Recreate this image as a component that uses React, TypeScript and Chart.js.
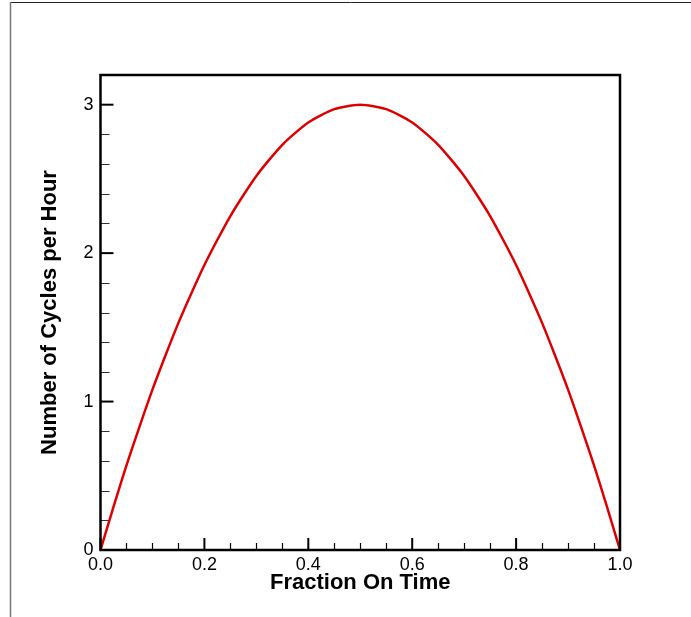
import React, { useEffect, useRef } from "react";
import { Chart, registerables } from "chart.js";

Chart.register(...registerables);

const fractionOnTime: number[] = [
  0, 0.025, 0.05, 0.075, 0.1, 0.125, 0.15, 0.175, 0.2, 0.225, 0.25, 0.275, 0.3, 0.325, 0.35, 0.375, 0.4, 0.425, 0.45,
  0.475, 0.5, 0.525, 0.55, 0.575, 0.6, 0.625, 0.65, 0.675, 0.7, 0.725, 0.75, 0.775, 0.8, 0.825, 0.85, 0.875, 0.9,
  0.925, 0.95, 0.975, 1.0,
];
const cyclesPerHour: number[] = [
  0, 0.29, 0.57, 0.83, 1.08, 1.31, 1.53, 1.73, 1.92, 2.09, 2.25, 2.39, 2.52, 2.63, 2.73, 2.81, 2.88, 2.93, 2.97, 2.99,
  3.0, 2.99, 2.97, 2.93, 2.88, 2.81, 2.73, 2.63, 2.52, 2.39, 2.25, 2.09, 1.92, 1.73, 1.53, 1.31, 1.08, 0.83, 0.57,
  0.29, 0,
];
const xMajorTicks: number[] = [0, 0.2, 0.4, 0.6, 0.8, 1.0];
const yMajorTicks: number[] = [0, 1, 2, 3];
const xTitle = "Fraction On Time";
const yTitle = "Number of Cycles per Hour";

const FONT = '"Liberation Sans", Arial, Helvetica, sans-serif';

const decorPlugin = {
  id: "decor",
  afterDraw(chart: any) {
    const ctx = chart.ctx as CanvasRenderingContext2D;
    const xs = chart.scales.x;
    const ys = chart.scales.y;
    const { left, right, top, bottom } = chart.chartArea;
    ctx.save();
    // outer frame
    ctx.strokeStyle = "#222";
    ctx.lineWidth = 1;
    ctx.beginPath();
    ctx.moveTo(10, 2.5);
    ctx.lineTo(691, 2.5);
    ctx.stroke();
    ctx.strokeStyle = "#777";
    ctx.lineWidth = 1.5;
    ctx.beginPath();
    ctx.moveTo(10.5, 2);
    ctx.lineTo(10.5, 617);
    ctx.stroke();

    // minor ticks x
    ctx.strokeStyle = "#000";
    ctx.lineWidth = 1.2;
    for (let i = 1; i < 20; i++) {
      if (i % 4 === 0) continue;
      const px = Math.round(xs.getPixelForValue(i * 0.05)) + 0.5;
      ctx.beginPath();
      ctx.moveTo(px, bottom);
      ctx.lineTo(px, bottom - 7);
      ctx.stroke();
    }
    // minor ticks y
    ctx.strokeStyle = "#333";
    ctx.lineWidth = 1;
    for (let i = 1; i < 16; i++) {
      if (i % 5 === 0) continue;
      const py = Math.round(ys.getPixelForValue(i * 0.2)) + 0.5;
      ctx.beginPath();
      ctx.moveTo(left, py);
      ctx.lineTo(left + 9, py);
      ctx.stroke();
    }
    // major ticks
    ctx.strokeStyle = "#000";
    ctx.lineWidth = 2;
    xMajorTicks.forEach((v) => {
      const px = xs.getPixelForValue(v);
      ctx.beginPath();
      ctx.moveTo(px, bottom);
      ctx.lineTo(px, bottom - 12);
      ctx.stroke();
    });
    yMajorTicks.forEach((v) => {
      const py = ys.getPixelForValue(v);
      ctx.beginPath();
      ctx.moveTo(left, py);
      ctx.lineTo(left + 13, py);
      ctx.stroke();
    });
    // box
    ctx.lineWidth = 2.5;
    ctx.strokeRect(left, top, right - left, bottom - top);
    ctx.restore();
  },
};

export default function App() {
  const ref = useRef<HTMLCanvasElement | null>(null);
  useEffect(() => {
    document.body.style.margin = "0";
    const canvas = ref.current;
    if (!canvas) return;
    const chart = new Chart(canvas, {
      type: "line",
      data: {
        datasets: [
          {
            data: fractionOnTime.map((x, i) => ({ x, y: cyclesPerHour[i] })),
            borderColor: "#dd0000",
            borderWidth: 2.5,
            pointRadius: 0,
            cubicInterpolationMode: "monotone",
            fill: false,
          },
        ],
      },
      options: {
        animation: false,
        responsive: false,
        maintainAspectRatio: false,
        layout: { padding: { top: 75, right: 71, left: 0, bottom: 0 } },
        plugins: { legend: { display: false }, tooltip: { enabled: false } },
        scales: {
          x: {
            type: "linear",
            min: 0,
            max: 1,
            grid: { display: false, drawTicks: false },
            border: { display: false },
            ticks: {
              stepSize: 0.2,
              padding: 4,
              color: "#000",
              font: { family: FONT, size: 18 },
              callback: (v: any) => Number(v).toFixed(1),
            },
            title: {
              display: true,
              text: xTitle,
              color: "#000",
              font: { family: FONT, size: 22, weight: "bold" },
              padding: { top: 0, bottom: 21 },
            },
            afterFit: (s: any) => {
              s.height = 67;
            },
          },
          y: {
            type: "linear",
            min: 0,
            max: 3.2,
            grid: { display: false, drawTicks: false },
            border: { display: false },
            afterBuildTicks: (s: any) => {
              s.ticks = yMajorTicks.map((v) => ({ value: v }));
            },
            ticks: {
              padding: 7,
              color: "#000",
              font: { family: FONT, size: 18 },
              callback: (v: any) => String(v),
            },
            title: {
              display: true,
              text: yTitle,
              color: "#000",
              font: { family: FONT, size: 22, weight: "bold" },
              padding: { top: 37, bottom: 0 },
            },
            afterFit: (s: any) => {
              s.width = 100.5;
            },
          },
        },
      },
      plugins: [decorPlugin],
    });
    return () => chart.destroy();
  }, []);
  return (
    <div style={{ width: 691, height: 617, position: "relative", background: "#fff" }}>
      <canvas ref={ref} width={691} height={617} style={{ display: "block", width: 691, height: 617 }} />
    </div>
  );
}
